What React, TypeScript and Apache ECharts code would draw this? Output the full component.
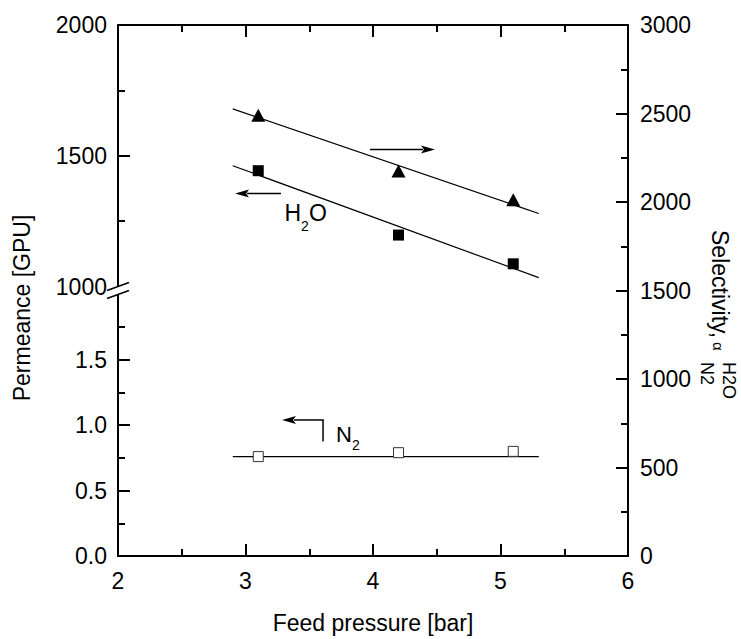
import React, { useEffect, useRef } from "react";
import * as echarts from "echarts";

// ---- data ----
const pressure = [3.1, 4.2, 5.1];
const h2oPermeance = [1443, 1197, 1087];
const n2Permeance = [0.76, 0.79, 0.8];
const selectivity = [2490, 2175, 2013];

const fitPressure = [2.9, 5.3];
const h2oFit = [1462, 1034];
const n2Fit = [0.76, 0.76];
const selectivityFit = [2526, 1935];

const lowerLabels = [0, 0.5, 1.0, 1.5];
const lowerMinor = [0.25, 0.75, 1.25, 1.75];
const upperLabels = [1000, 1500, 2000];
const upperMinor = [1250, 1750];

// ---- broken left axis mapping ----
const LOWER_TOP = 2;
const GAP = 0.06;
const UPPER_MIN = 1000;
const UPPER_SPAN = 500;
const toScaled = (v: number) =>
  v <= LOWER_TOP ? v : LOWER_TOP + GAP + (v - UPPER_MIN) / UPPER_SPAN;
const fromScaled = (s: number) =>
  s <= LOWER_TOP + 1e-9
    ? s.toFixed(1)
    : String(Math.round(UPPER_MIN + (s - LOWER_TOP - GAP) * UPPER_SPAN));
const LEFT_MAX = toScaled(2000);

const FONT = "'Liberation Sans', Arial, sans-serif";
const W = 741;
const H = 639;
const GRID = { left: 118, top: 25, width: 510, height: 538 };

const pairs = (xs: number[], ys: number[], f = (v: number) => v) =>
  xs.map((x, i) => [x, f(ys[i])]);

export default function App() {
  const ref = useRef<HTMLDivElement>(null);
  useEffect(() => {
    if (!ref.current) return;
    const chart = echarts.init(ref.current, undefined, { renderer: "svg" });
    const tickStyle = { color: "#000", width: 2 };
    const labelStyle = { color: "#000", fontSize: 23, fontFamily: FONT };
    const option: any = {
      animation: false,
      backgroundColor: "#fff",
      grid: { ...GRID, containLabel: false },
      xAxis: [
        {
          type: "value",
          min: 2,
          max: 6,
          interval: 1,
          position: "bottom",
          axisLine: { onZero: false, lineStyle: tickStyle },
          axisTick: { inside: true, length: 12, lineStyle: tickStyle },
          minorTick: { show: true, splitNumber: 2, length: 7, lineStyle: tickStyle },
          splitLine: { show: false },
          axisLabel: { ...labelStyle, margin: 13, formatter: (v: number) => String(v) },
          name: "Feed pressure [bar]",
          nameLocation: "middle",
          nameGap: 55,
          nameTextStyle: { color: "#000", fontSize: 23, fontFamily: FONT },
        },
        {
          type: "value",
          min: 2,
          max: 6,
          interval: 1,
          position: "top",
          axisLine: { onZero: false, lineStyle: tickStyle },
          axisTick: { inside: true, length: 12, lineStyle: tickStyle },
          minorTick: { show: true, splitNumber: 2, length: 7, lineStyle: tickStyle },
          splitLine: { show: false },
          axisLabel: { show: false },
        },
      ],
      yAxis: [
        {
          type: "value",
          min: 0,
          max: LEFT_MAX,
          position: "left",
          axisLine: { show: true, onZero: false, lineStyle: tickStyle },
          axisTick: {
            inside: true,
            length: 12,
            lineStyle: tickStyle,
            customValues: [...lowerLabels, ...upperLabels.slice(1).map(toScaled)],
          },
          splitLine: { show: false },
          axisLabel: {
            ...labelStyle,
            margin: 11,
            customValues: [...lowerLabels, ...upperLabels.map(toScaled)],
            formatter: (v: number) => fromScaled(v),
          },
        },
        {
          type: "value",
          min: 0,
          max: 3000,
          interval: 500,
          position: "right",
          axisLine: { show: true, onZero: false, lineStyle: tickStyle },
          axisTick: { inside: true, length: 12, lineStyle: tickStyle },
          minorTick: { show: true, splitNumber: 2, length: 7, lineStyle: tickStyle },
          splitLine: { show: false },
          axisLabel: { ...labelStyle, margin: 12, formatter: (v: number) => String(v) },
        },
        {
          type: "value",
          min: 0,
          max: LEFT_MAX,
          position: "left",
          axisLine: { show: false },
          axisTick: {
            inside: true,
            length: 7,
            lineStyle: tickStyle,
            customValues: [...lowerMinor, ...upperMinor.map(toScaled)],
          },
          axisLabel: { show: false },
          splitLine: { show: false },
        },
      ],
      series: [
        {
          type: "line",
          xAxisIndex: 0,
          yAxisIndex: 1,
          data: pairs(fitPressure, selectivityFit),
          showSymbol: false,
          symbol: "none",
          lineStyle: { color: "#000", width: 1.2 },
        },
        {
          type: "line",
          xAxisIndex: 0,
          yAxisIndex: 0,
          data: pairs(fitPressure, h2oFit, toScaled),
          showSymbol: false,
          symbol: "none",
          lineStyle: { color: "#000", width: 1.2 },
        },
        {
          type: "line",
          xAxisIndex: 0,
          yAxisIndex: 0,
          data: pairs(fitPressure, n2Fit, toScaled),
          showSymbol: false,
          symbol: "none",
          lineStyle: { color: "#000", width: 1.2 },
        },
        {
          type: "scatter",
          xAxisIndex: 0,
          yAxisIndex: 1,
          data: pairs(pressure, selectivity),
          symbol: "triangle",
          symbolSize: [14, 13],
          itemStyle: { color: "#000", opacity: 1 },
          z: 5,
        },
        {
          type: "scatter",
          xAxisIndex: 0,
          yAxisIndex: 0,
          data: pairs(pressure, h2oPermeance, toScaled),
          symbol: "rect",
          symbolSize: 11,
          itemStyle: { color: "#000", opacity: 1 },
          z: 5,
        },
        {
          type: "scatter",
          xAxisIndex: 0,
          yAxisIndex: 0,
          data: pairs(pressure, n2Permeance, toScaled),
          symbol: "rect",
          symbolSize: 10,
          itemStyle: { color: "#fff", borderColor: "#333", borderWidth: 1, opacity: 1 },
          z: 5,
        },
      ],
    };
    chart.setOption(option);

    const L = { xAxisIndex: 0, yAxisIndex: 0 };
    const R = { xAxisIndex: 0, yAxisIndex: 1 };
    const px = (f: any, p: number[]) => chart.convertToPixel(f, p) as unknown as number[];

    const elems: any[] = [];
    const txt = (
      x: number,
      y: number,
      text: string,
      size: number,
      align = "left",
      rotation = 0
    ) => ({
      type: "text",
      x,
      y,
      rotation,
      z: 100,
      style: {
        text,
        fill: "#000",
        fontSize: size,
        fontFamily: FONT,
        align,
        textAlign: align,
        verticalAlign: "middle",
        textVerticalAlign: "middle",
      },
    });
    const arrow = (tail: number[], head: number[]) => {
      const dx = head[0] - tail[0];
      const dy = head[1] - tail[1];
      const len = Math.hypot(dx, dy);
      const ux = dx / len;
      const uy = dy / len;
      const hl = 14;
      const hw = 4;
      const bx = head[0] - ux * hl;
      const by = head[1] - uy * hl;
      elems.push({
        type: "line",
        z: 100,
        shape: { x1: tail[0], y1: tail[1], x2: bx + ux * 2, y2: by + uy * 2 },
        style: { stroke: "#000", lineWidth: 1.5 },
      });
      elems.push({
        type: "polygon",
        z: 100,
        shape: {
          points: [
            [head[0], head[1]],
            [bx - uy * hw, by + ux * hw],
            [bx + ux * 3, by + uy * 3],
            [bx + uy * hw, by - ux * hw],
          ],
        },
        style: { fill: "#000" },
      });
    };

    // selectivity arrow (points right)
    arrow(px(R, [3.976, 2297]), px(R, [4.486, 2297]));
    // H2O permeance arrow (points left)
    arrow(px(L, [3.278, toScaled(1356)]), px(L, [2.918, toScaled(1356)]));
    const hPos = px(L, [3.305, toScaled(1280)]);
    elems.push(txt(hPos[0], hPos[1], "H", 23));
    elems.push(txt(hPos[0] + 16.5, hPos[1] + 13, "2", 14));
    elems.push(txt(hPos[0] + 24.5, hPos[1], "O", 23));

    // N2 arrow with vertical stub
    const corner = px(L, [3.608, 1.04]);
    const stubEnd = px(L, [3.608, 0.875]);
    elems.push({
      type: "line",
      z: 100,
      shape: { x1: corner[0], y1: corner[1], x2: stubEnd[0], y2: stubEnd[1] },
      style: { stroke: "#000", lineWidth: 1.5 },
    });
    arrow([corner[0] + 0.75, corner[1]], px(L, [3.286, 1.04]));
    const nPos = px(L, [3.71, 0.93]);
    elems.push(txt(nPos[0], nPos[1], "N", 22));
    elems.push(txt(nPos[0] + 16, nPos[1] + 11, "2", 14));

    // axis break on the left axis
    const axisX = GRID.left;
    const yLow = px(L, [2, LOWER_TOP])[1];
    const yHigh = px(L, [2, LOWER_TOP + GAP])[1];
    elems.push({
      type: "rect",
      z: 99,
      shape: { x: axisX - 3, y: yHigh, width: 6, height: yLow - yHigh },
      style: { fill: "#fff" },
    });
    [yHigh, yLow].forEach((yy) =>
      elems.push({
        type: "line",
        z: 100,
        shape: { x1: axisX - 11, y1: yy + 4, x2: axisX + 11, y2: yy - 4 },
        style: { stroke: "#000", lineWidth: 1.5 },
      })
    );

    // axis titles
    const plotMidY = GRID.top + GRID.height / 2;
    elems.push(txt(22, plotMidY + 14, "Permeance [GPU]", 23, "center", Math.PI / 2));
    const rx = GRID.left + GRID.width;
    elems.push(txt(rx + 92, 230, "Selectivity, ", 23, "left", -Math.PI / 2));
    elems.push(txt(rx + 90, 342, "α", 15, "left", -Math.PI / 2));
    elems.push(txt(rx + 79, 362, "N2", 18, "left", -Math.PI / 2));
    elems.push(txt(rx + 101, 362, "H2O", 18, "left", -Math.PI / 2));

    chart.setOption({ graphic: { elements: elems } });

    return () => chart.dispose();
  }, []);
  return (
    <div
      ref={ref}
      style={{ position: "fixed", left: 0, top: 0, width: W, height: H, background: "#fff" }}
    />
  );
}
